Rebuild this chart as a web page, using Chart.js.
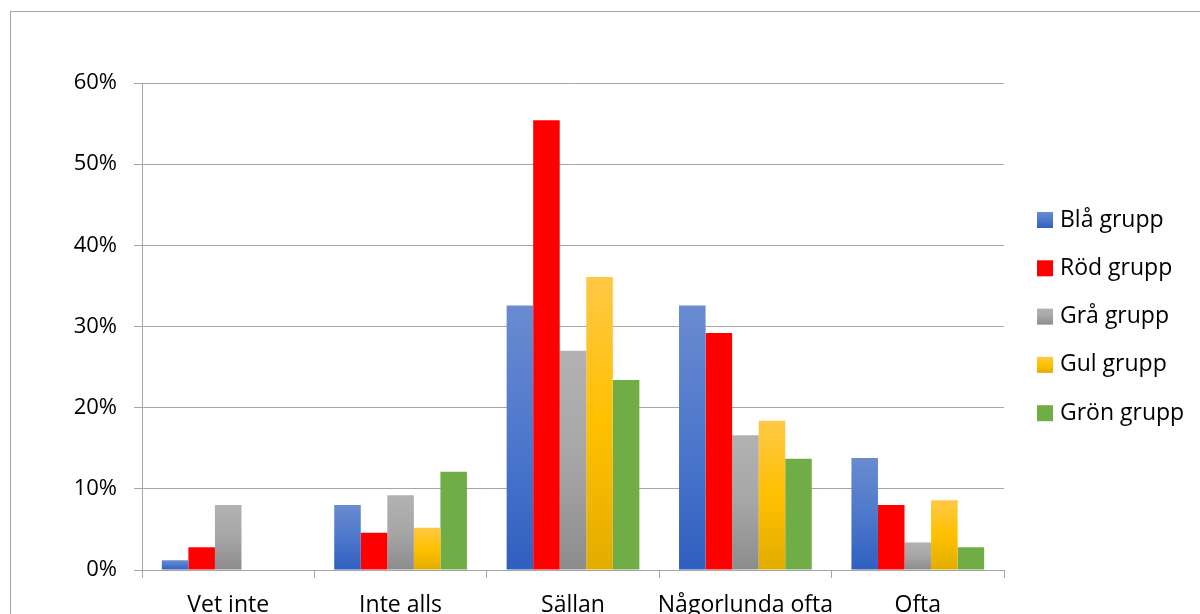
<!DOCTYPE html>
<html>
<head>
<meta charset="utf-8">
<script src="https://cdn.jsdelivr.net/npm/chart.js@4/dist/chart.umd.min.js"></script>
<style>
  html, body { margin: 0; padding: 0; background: #fff; overflow: hidden; }
  #wrap { width: 1200px; height: 614px; overflow: hidden; }
</style>
</head>
<body>
<div id="wrap"><canvas id="chart" width="1200" height="640"></canvas></div>
<script>
// categories + series (fractions)
const categories = ["Vet inte", "Inte alls", "Sällan", "Någorlunda ofta", "Ofta"];
const blaGrupp  = [0.012, 0.080, 0.326, 0.326, 0.138];
const rodGrupp  = [0.028, 0.046, 0.554, 0.292, 0.080];
const graGrupp  = [0.080, 0.092, 0.270, 0.166, 0.034];
const gulGrupp  = [0,     0.052, 0.361, 0.184, 0.086];
const gronGrupp = [0,     0.121, 0.234, 0.137, 0.028];
const seriesNames = ["Blå grupp", "Röd grupp", "Grå grupp", "Gul grupp", "Grön grupp"];

const FONT = "'Open Sans', 'Noto Sans', sans-serif";

// top / middle / bottom colours of each series (Excel-ish gradient)
const fills = [
  ["#6a8bd0", "#4e78cc", "#2f5fbf"],
  ["#ff0000", "#ff0000", "#ff0000"],
  ["#b2b2b2", "#a6a6a6", "#8c8c8c"],
  ["#ffc846", "#ffc000", "#e2ad00"],
  ["#70ad47", "#70ad47", "#70ad47"]
];

function grad(ctx, top, bottom, c) {
  if (c[0] === c[2]) return c[0];
  if (bottom - top < 1) return c[1];
  const g = ctx.createLinearGradient(0, top, 0, bottom);
  g.addColorStop(0, c[0]);
  g.addColorStop(0.5, c[1]);
  g.addColorStop(1, c[2]);
  return g;
}

// gradient runs over each single bar
function barFill(i) {
  return function (context) {
    const chart = context.chart;
    const y = chart.scales.y;
    if (!chart.chartArea || !y || context.raw === undefined) return fills[i][1];
    const top = y.getPixelForValue(context.raw);
    const bottom = y.getPixelForValue(0);
    return grad(chart.ctx, top, bottom, fills[i]);
  };
}

const values = [blaGrupp, rodGrupp, graGrupp, gulGrupp, gronGrupp];

// frame + legend
const extras = {
  id: "extras",
  beforeDraw(chart) {
    const ctx = chart.ctx;
    ctx.save();
    ctx.fillStyle = "#fff";
    ctx.fillRect(0, 0, chart.width, chart.height);
    ctx.strokeStyle = "#a6a6a6";
    ctx.lineWidth = 1;
    ctx.strokeRect(10.5, 11.5, 1300, 700);
    ctx.restore();
  },
  afterDraw(chart) {
    const ctx = chart.ctx;
    ctx.save();
    ctx.font = "23px " + FONT;
    ctx.textBaseline = "middle";
    chart.data.datasets.forEach((ds, i) => {
      const cy = 220 + i * 48.3;
      ctx.fillStyle = grad(ctx, cy - 8, cy + 8, fills[i]);
      ctx.fillRect(1037, cy - 8, 16, 16);
      ctx.fillStyle = "#000";
      ctx.fillText(ds.label, 1060, cy);
    });
    ctx.restore();
  }
};

new Chart(document.getElementById("chart"), {
  type: "bar",
  data: {
    labels: categories,
    datasets: seriesNames.map((name, i) => ({
      label: name,
      data: values[i],
      backgroundColor: barFill(i),
      borderWidth: 0,
      barPercentage: 1,
      categoryPercentage: 0.77
    }))
  },
  options: {
    responsive: false,
    devicePixelRatio: 1,
    animation: false,
    layout: { padding: { left: 0, top: 83, right: 196, bottom: 0 } },
    plugins: {
      legend: { display: false },
      tooltip: { enabled: false }
    },
    scales: {
      x: {
        offset: true,
        grid: {
          offset: true,
          drawOnChartArea: false,
          color: "#a6a6a6",
          tickLength: 8
        },
        border: { color: "#a6a6a6" },
        ticks: {
          color: "#000",
          font: { family: FONT, size: 23 },
          padding: 14,
          autoSkip: false,
          maxRotation: 0
        },
        afterFit(scale) { scale.height = 70; }
      },
      y: {
        min: 0,
        max: 0.6,
        grid: { color: "#a6a6a6", tickLength: 8 },
        border: { color: "#a6a6a6" },
        ticks: {
          stepSize: 0.1,
          color: "#000",
          font: { family: FONT, size: 22 },
          padding: 17,
          callback: v => Math.round(v * 100) + "%"
        },
        afterFit(scale) { scale.width = 142; }
      }
    }
  },
  plugins: [extras]
});
</script>
</body>
</html>
